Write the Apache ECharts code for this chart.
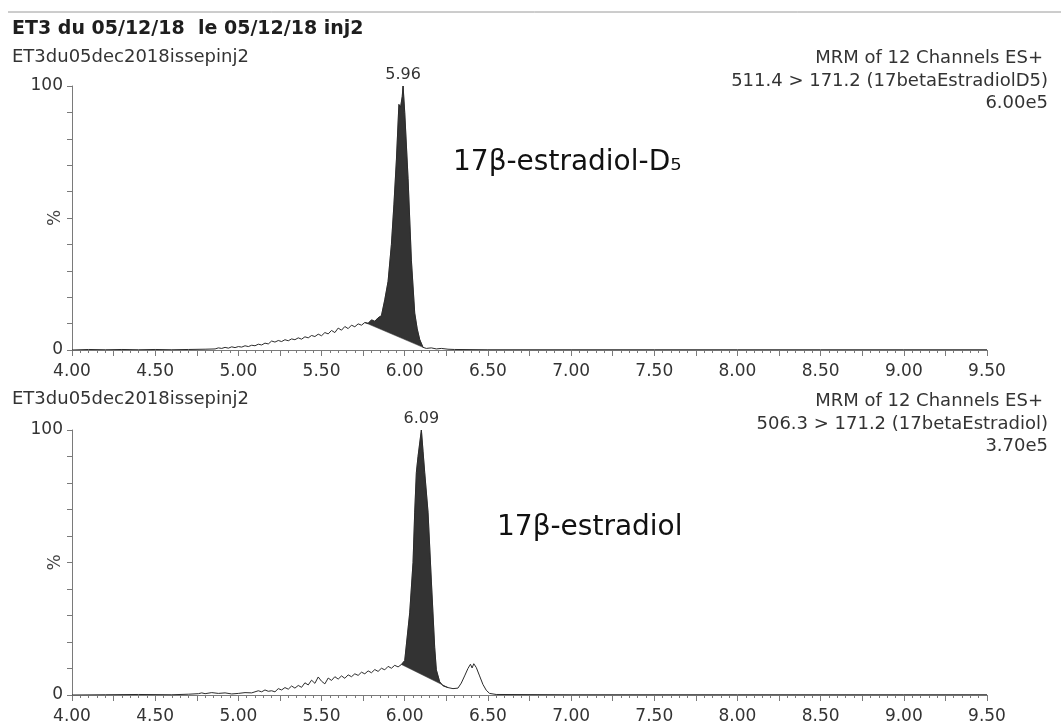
<!DOCTYPE html>
<html>
<head>
<meta charset="utf-8">
<script src="https://cdn.jsdelivr.net/npm/echarts@6/dist/echarts.min.js"></script>
<style>
html, body { margin: 0; padding: 0; background: #fff; }
#chart { width: 1061px; height: 725px; }
</style>
</head>
<body>
<div id="chart"></div>
<script>
// canal du haut : 511.4 > 171.2 (17betaEstradiolD5)
const topTimes = [4.00, 4.10, 4.20, 4.30, 4.40, 4.50, 4.60, 4.70, 4.80, 4.86,
  4.88, 4.90, 4.92, 4.94, 4.96, 4.98, 5.00, 5.02, 5.04, 5.06, 5.08, 5.10, 5.12, 5.14, 5.16, 5.18,
  5.20, 5.22, 5.24, 5.26, 5.28, 5.30, 5.32, 5.34, 5.36, 5.38, 5.40, 5.42, 5.44, 5.46, 5.48, 5.50,
  5.52, 5.54, 5.56, 5.58, 5.60, 5.62, 5.64, 5.66, 5.68, 5.70, 5.72, 5.74, 5.76, 5.78, 5.80, 5.82,
  5.84, 5.86, 5.88, 5.90, 5.92, 5.935, 5.95, 5.965, 5.975, 5.985, 5.99, 6.00, 6.02, 6.04, 6.06,
  6.075, 6.09, 6.11, 6.13, 6.16, 6.19, 6.22, 6.26, 6.30, 6.50, 7.00, 7.50, 8.00, 8.50, 9.00, 9.50];
const topValues = [0, 0.2, 0.1, 0.2, 0.1, 0.2, 0.1, 0.2, 0.3, 0.4,
  0.8, 0.6, 1.0, 0.7, 1.2, 0.9, 1.3, 1.1, 1.6, 1.3, 1.8, 1.6, 2.2, 1.9, 2.6, 2.3,
  3.4, 3.0, 3.6, 3.2, 3.9, 3.5, 4.2, 3.9, 4.6, 4.1, 5.0, 4.6, 5.5, 5.1, 6.0, 5.4,
  6.6, 6.1, 7.4, 6.6, 8.3, 7.5, 8.9, 8.1, 9.4, 8.8, 9.9, 9.4, 10.4, 10.1, 11.4, 10.9,
  12.2, 13.0, 19, 26, 40, 55, 72, 93, 92, 96, 100, 90, 65, 34, 14,
  8, 4, 1.0, 0.6, 0.8, 0.4, 0.6, 0.3, 0.2, 0.1, 0.1, 0.1, 0.1, 0.1, 0.1, 0.1];
const topPeakWindow = [5.76, 6.11];
const topApex = [5.99, 100];
const topApexLabel = '5.96';

// canal du bas : 506.3 > 171.2 (17betaEstradiol)
const botTimes = [4.00, 4.20, 4.40, 4.60, 4.70, 4.76, 4.78, 4.80, 4.84, 4.88, 4.92, 4.96, 5.00,
  5.04, 5.08, 5.12, 5.14, 5.16, 5.18, 5.20, 5.22, 5.24, 5.26, 5.28, 5.30, 5.32, 5.34, 5.36, 5.38,
  5.40, 5.42, 5.44, 5.46, 5.48, 5.50, 5.52, 5.54, 5.56, 5.58, 5.60, 5.62, 5.64, 5.66, 5.68, 5.70,
  5.72, 5.74, 5.76, 5.78, 5.80, 5.82, 5.84, 5.86, 5.88, 5.90, 5.92, 5.94, 5.96, 5.98,
  6.00, 6.03, 6.05, 6.06, 6.07, 6.08, 6.10, 6.11, 6.12, 6.14, 6.16, 6.18, 6.19, 6.21, 6.23, 6.26,
  6.29, 6.32, 6.34, 6.36, 6.38, 6.395, 6.405, 6.415, 6.43, 6.45, 6.47, 6.49, 6.51, 6.55,
  7.00, 8.00, 9.00, 9.50];
const botValues = [0, 0.1, 0.2, 0.1, 0.3, 0.5, 0.8, 0.5, 0.9, 0.6, 0.8, 0.4, 0.6,
  0.9, 0.8, 1.6, 1.2, 1.9, 1.4, 1.6, 1.2, 2.4, 1.9, 2.8, 2.2, 3.4, 2.6, 3.6, 2.9,
  4.6, 3.8, 5.6, 4.4, 6.8, 5.2, 4.2, 6.4, 5.5, 6.9, 6.0, 7.2, 6.3, 7.6, 6.9, 8.0,
  7.4, 8.6, 8.0, 9.1, 8.4, 9.6, 8.9, 10.1, 9.5, 10.8, 10.1, 11.2, 10.6, 11.5,
  13, 31, 50, 69, 84, 90, 100, 92, 84, 69, 43, 18, 9.5, 5.0, 3.5, 2.8,
  2.4, 2.6, 4.5, 7.2, 10.0, 11.6, 10.2, 11.8, 10.4, 7.2, 4.0, 1.8, 0.6, 0.2,
  0.1, 0.1, 0.1, 0.1];
const botPeakWindow = [5.97, 6.26];
const botApex = [6.10, 100];
const botApexLabel = '6.09';

const FONT = '"DejaVu Sans", "Liberation Sans", sans-serif';
const INK = '#2b2b2b';
const AXIS_GREY = '#7a7a7a';

function pairs(ts, vs) {
  return ts.map((t, i) => [t, vs[i]]);
}

function peakPoints(ts, vs, win) {
  const out = [];
  ts.forEach((t, i) => {
    if (t >= win[0] && t <= win[1]) out.push([t, vs[i]]);
  });
  return out;
}

const chart = echarts.init(document.getElementById('chart'));

function xAxisFor(gridIndex) {
  return {
    type: 'value',
    gridIndex: gridIndex,
    min: 4,
    max: 9.5,
    interval: 0.25,
    axisLine: { show: true, lineStyle: { color: AXIS_GREY, width: 1 } },
    axisTick: { show: true, length: 6, lineStyle: { color: AXIS_GREY } },
    minorTick: { show: true, splitNumber: 5, length: 3, lineStyle: { color: AXIS_GREY } },
    splitLine: { show: false },
    axisLabel: {
      margin: 13,
      fontSize: 17,
      fontFamily: FONT,
      color: '#333',
      formatter: v => (Math.round(v * 100) % 50 === 0 ? v.toFixed(2) : '')
    }
  };
}

function yAxisFor(gridIndex) {
  return {
    type: 'value',
    gridIndex: gridIndex,
    min: 0,
    max: 100,
    interval: 10,
    name: '%',
    nameLocation: 'middle',
    nameRotate: 90,
    nameGap: 8,
    nameMoveOverlap: false,
    nameTextStyle: { fontSize: 17, fontFamily: FONT, color: '#444' },
    axisLine: { show: true, lineStyle: { color: AXIS_GREY, width: 1 } },
    axisTick: { show: true, length: 5, lineStyle: { color: AXIS_GREY } },
    splitLine: { show: false },
    axisLabel: {
      margin: 9,
      fontSize: 17,
      fontFamily: FONT,
      color: '#333',
      formatter: v => (v === 0 || v === 100 ? String(v) : '')
    }
  };
}

function traceSeries(idx, ts, vs, apex, apexLabel) {
  return {
    type: 'line',
    xAxisIndex: idx,
    yAxisIndex: idx,
    data: pairs(ts, vs),
    showSymbol: false,
    symbol: 'none',
    animation: false,
    lineStyle: { color: INK, width: 1 },
    markPoint: {
      symbol: 'circle',
      symbolSize: 0,
      label: {
        show: true,
        position: 'top',
        distance: 3,
        formatter: apexLabel,
        fontSize: 16,
        fontFamily: FONT,
        color: '#333'
      },
      data: [{ coord: apex }]
    }
  };
}

// pic integre : polygone entre la trace et la ligne de base droite
function fillSeries(idx, pts) {
  return {
    type: 'custom',
    xAxisIndex: idx,
    yAxisIndex: idx,
    silent: true,
    animation: false,
    data: [pts[0]],
    renderItem: function (params, api) {
      return {
        type: 'polygon',
        shape: { points: pts.map(p => api.coord(p)) },
        style: { fill: '#333', stroke: '#333', lineWidth: 0.5 }
      };
    }
  };
}

function txt(x, y, text, opts) {
  return {
    type: 'text',
    x: x,
    y: y,
    silent: true,
    style: Object.assign({
      text: text,
      font: '18px ' + FONT,
      fill: '#333',
      align: 'left',
      verticalAlign: 'middle'
    }, opts || {})
  };
}

const option = {
  backgroundColor: '#fff',
  animation: false,
  grid: [
    { left: 72, right: 74, top: 86, height: 264, outerBoundsMode: 'none' },
    { left: 72, right: 74, top: 430, height: 265, outerBoundsMode: 'none' }
  ],
  xAxis: [xAxisFor(0), xAxisFor(1)],
  yAxis: [yAxisFor(0), yAxisFor(1)],
  series: [
    fillSeries(0, peakPoints(topTimes, topValues, topPeakWindow)),
    traceSeries(0, topTimes, topValues, topApex, topApexLabel),
    fillSeries(1, peakPoints(botTimes, botValues, botPeakWindow)),
    traceSeries(1, botTimes, botValues, botApex, botApexLabel)
  ],
  graphic: [
    { type: 'line', silent: true, shape: { x1: 8, y1: 12, x2: 1061, y2: 12 }, style: { stroke: '#9a9a9a', lineWidth: 1 } },
    txt(12, 29, 'ET3 du 05/12/18  le 05/12/18 inj2', { font: 'bold 19px ' + FONT, fill: '#1e1e1e' }),
    txt(12, 57, 'ET3du05dec2018issepinj2'),
    txt(1043, 58, 'MRM of 12 Channels ES+', { align: 'right' }),
    txt(1048, 81, '511.4 > 171.2 (17betaEstradiolD5)', { align: 'right' }),
    txt(1048, 103, '6.00e5', { align: 'right' }),
    txt(12, 399, 'ET3du05dec2018issepinj2'),
    txt(1043, 401, 'MRM of 12 Channels ES+', { align: 'right' }),
    txt(1048, 424, '506.3 > 171.2 (17betaEstradiol)', { align: 'right' }),
    txt(1048, 446, '3.70e5', { align: 'right' }),
    txt(453, 163, '17β-estradiol-D₅', { font: '28px ' + FONT, fill: '#111' }),
    txt(497, 528, '17β-estradiol', { font: '28px ' + FONT, fill: '#111' })
  ]
};

chart.setOption(option);
</script>
</body>
</html>
